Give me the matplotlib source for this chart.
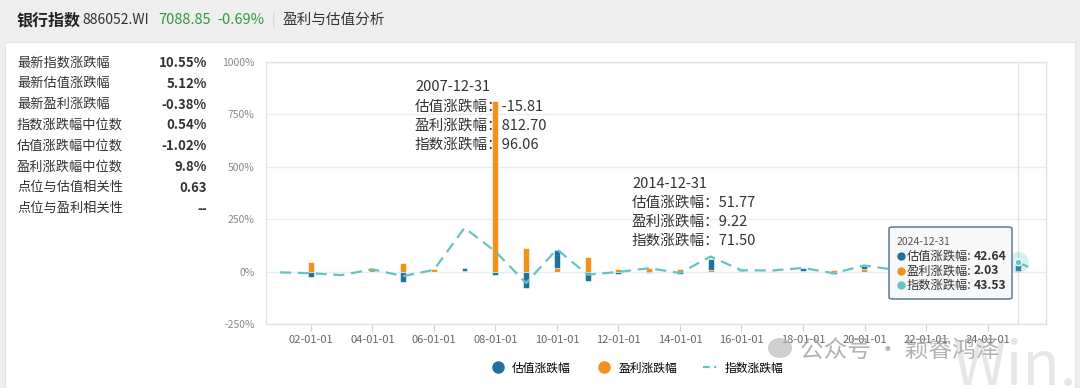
import matplotlib
matplotlib.use('Agg')
import matplotlib.pyplot as plt
import matplotlib.dates as mdates
from matplotlib.lines import Line2D
from matplotlib.patches import FancyBboxPatch, Rectangle, Ellipse
import numpy as np
import pandas as pd

plt.rcParams['font.family'] = ['Noto Sans CJK SC', 'DejaVu Sans']

# data (year-end changes, %); last point is the latest partial year
dates = ['2000-12-31', '2001-12-31', '2002-12-31', '2003-12-31', '2004-12-31',
         '2005-12-31', '2006-12-31', '2007-12-31', '2008-12-31', '2009-12-31',
         '2010-12-31', '2011-12-31', '2012-12-31', '2013-12-31', '2014-12-31',
         '2015-12-31', '2016-12-31', '2017-12-31', '2018-12-31', '2019-12-31',
         '2020-12-31', '2021-12-31', '2022-12-31', '2023-12-31', '2024-12-31',
         '2025-06-30']
val_chg = [None, -25, None, -1, -48, -2, 13, -15.81, -80, 89, -45, -10, -6, -10,
           51.77, 3, 3, 12, -14, 16, -4, -12, -10, -3, 42.64, None]
eps_chg = [None, 46, None, 12, 40, 10, 3, 812.70, 114, 16, 68, 13, 18, 14,
           9.22, 2, 1, 4, 8, 12, 2, 10, 6, 2, 2.03, None]
idx_chg = [-4, -8, -17, 11, -22, 8, 208, 96.06, -55, 106, -15, -2, 16, -7,
           71.50, 6, 5, 17, -8, 29, 8, -3, -5, 4, 43.53, 10.55]

stats_labels = ['最新指数涨跌幅', '最新估值涨跌幅', '最新盈利涨跌幅', '指数涨跌幅中位数',
                '估值涨跌幅中位数', '盈利涨跌幅中位数', '点位与估值相关性', '点位与盈利相关性']
stats_values = ['10.55%', '5.12%', '-0.38%', '0.54%', '-1.02%', '9.8%', '0.63', '--']

BLUE = '#22709f'
ORANGE = '#f5901f'
TEAL = '#66c3c3'
GREEN = '#2f9a3a'

W, H = 1080, 388
fig = plt.figure(figsize=(W / 100, H / 100), dpi=100, facecolor='#eeeeee')

def fx(px):
    return px / W

def fy(py):
    return 1 - py / H

# white body panel
fig.patches.append(Rectangle((fx(5), 0), fx(1070), fy(42), transform=fig.transFigure,
                             facecolor='white', edgecolor='#e4e4e4', lw=0.8, zorder=-2))

# header
fig.text(fx(17), fy(20), '银行指数', fontsize=11.5, fontweight='bold', color='#222', va='center')
fig.text(fx(82), fy(20), '886052.WI', fontsize=10, color='#333', va='center')
fig.text(fx(158), fy(20), '7088.85', fontsize=10.5, color=GREEN, va='center')
fig.text(fx(217), fy(20), '-0.69%', fontsize=10.5, color=GREEN, va='center')
fig.text(fx(272), fy(20), '|', fontsize=10, color='#d0d0d0', va='center')
fig.text(fx(283), fy(20), '盈利与估值分析', fontsize=10.5, color='#333', va='center')

# left stats panel
for i, (lab, v) in enumerate(zip(stats_labels, stats_values)):
    y = 63 + i * 20.8
    fig.text(fx(17), fy(y), lab, fontsize=9.5, color='#333', va='center')
    fig.text(fx(207), fy(y), v, fontsize=9.5, color='#333', va='center', ha='right',
             fontweight='bold')

# watermark "Win.d" sits under the chart
fig.text(fx(952), fy(368), 'Win.d', fontsize=44, color='#e6e6e6', va='center', zorder=-1)

# chart
ax = fig.add_axes([fx(265.7), fy(324), fx(1046 - 265.7), (324 - 61.7) / H])
ax.set_zorder(1)
ax.patch.set_alpha(0)
d = pd.to_datetime(dates)
val = np.array([np.nan if v is None else v for v in val_chg], dtype=float)
eps = np.array([np.nan if v is None else v for v in eps_chg], dtype=float)
idx = np.array(idx_chg, dtype=float)

same = np.sign(np.nan_to_num(val)) == np.sign(np.nan_to_num(eps))
val_bottom = np.where(same, np.nan_to_num(eps), 0)
m = ~np.isnan(eps)
ax.bar(d[m], eps[m], width=70, color=ORANGE, edgecolor='white', linewidth=0.4, zorder=2)
ax.bar(d[m], val[m], bottom=val_bottom[m], width=70, color=BLUE, edgecolor='white',
       linewidth=0.4, zorder=2)
ax.plot(d, idx, color=TEAL, lw=1.6, dashes=(5, 3), zorder=3)

# hovered point
ax.axvline(d[-2], color='#dde2e8', lw=1, zorder=1)
ax.scatter([d[-2]], [idx[-2]], s=230, color=TEAL, alpha=0.25, edgecolor='none', zorder=4)
ax.scatter([d[-2]], [idx[-2]], s=22, color=TEAL, edgecolor='white', lw=0.8, zorder=5)

ax.set_ylim(-250, 1000)
ax.set_yticks([-250, 0, 250, 500, 750, 1000])
ax.set_yticklabels([f'{t}%' for t in [-250, 0, 250, 500, 750, 1000]])
ax.set_xlim(pd.Timestamp('2000-07-14'), pd.Timestamp('2025-11-25'))
ax.set_xticks(pd.date_range('2002-01-01', '2024-01-01', freq='2YS'))
ax.xaxis.set_major_formatter(mdates.DateFormatter('%y-%m-%d'))
ax.tick_params(axis='x', length=5, color='#ccd3db', labelsize=8, labelcolor='#666', pad=3)
ax.tick_params(axis='y', length=0, labelsize=7.5, labelcolor='#888', pad=8)
ax.yaxis.grid(True, color='#e9ecf0', lw=1)
ax.set_axisbelow(True)
for s in ax.spines.values():
    s.set_color('#dde2e9')
    s.set_linewidth(1)

# in-chart labels (behind the bars)
notes = [(415, 87, ['2007-12-31', '估值涨跌幅：-15.81', '盈利涨跌幅：812.70', '指数涨跌幅：96.06']),
         (632, 183.5, ['2014-12-31', '估值涨跌幅：51.77', '盈利涨跌幅：9.22', '指数涨跌幅：71.50'])]
for x0, y0, lines in notes:
    for k, s in enumerate(lines):
        ax.text(fx(x0), fy(y0 + k * 19.2), s, transform=fig.transFigure, fontsize=10.5,
                color='#333', va='center', ha='left', zorder=1)

# tooltip
fig.patches.append(FancyBboxPatch((fx(889), fy(299)), fx(123), (299 - 227) / H,
                                  boxstyle='round,pad=0,rounding_size=0.004',
                                  transform=fig.transFigure, facecolor='#f7f8fa',
                                  edgecolor='#5d7a90', lw=1.1, zorder=6))
fig.text(fx(897), fy(242), '2024-12-31', fontsize=7.5, color='#555', va='center', zorder=7)
tip = [(BLUE, '估值涨跌幅:', '42.64'), (ORANGE, '盈利涨跌幅:', '2.03'), (TEAL, '指数涨跌幅:', '43.53')]
for k, (c, lab, v) in enumerate(tip):
    y = 256 + k * 14.7
    fig.lines.append(Line2D([fx(901)], [fy(y)], marker='o', ms=5, color=c, lw=0,
                            transform=fig.transFigure, zorder=7))
    fig.text(fx(907), fy(y), lab, fontsize=8.8, color='#333', va='center', zorder=7)
    fig.text(fx(974), fy(y), v, fontsize=8.8, color='#333', va='center', fontweight='bold',
             zorder=7)

# legend
handles = [Line2D([], [], marker='o', ms=8, color=BLUE, lw=0),
           Line2D([], [], marker='o', ms=8, color=ORANGE, lw=0),
           Line2D([], [], color=TEAL, lw=1.6, dashes=(3, 2, 1, 2))]
fig.legend(handles, ['估值涨跌幅', '盈利涨跌幅', '指数涨跌幅'], loc='center',
           bbox_to_anchor=(fx(637), fy(368)), ncol=3, frameon=False, fontsize=8.5,
           handlelength=1.2, handletextpad=0.6, columnspacing=2.2)

# watermark text over the chart
fig.patches.append(Ellipse((fx(780), fy(348)), fx(24), 20 / H, transform=fig.transFigure,
                           facecolor='#b0b0b0', alpha=0.6, edgecolor='none', zorder=8))
fig.text(fx(800), fy(350), '公众号 · 颖睿鸿泽', fontsize=17, color='#a0a0a0', alpha=0.8,
         va='center', zorder=8)

fig.savefig('out.png', dpi=100, facecolor=fig.get_facecolor())
